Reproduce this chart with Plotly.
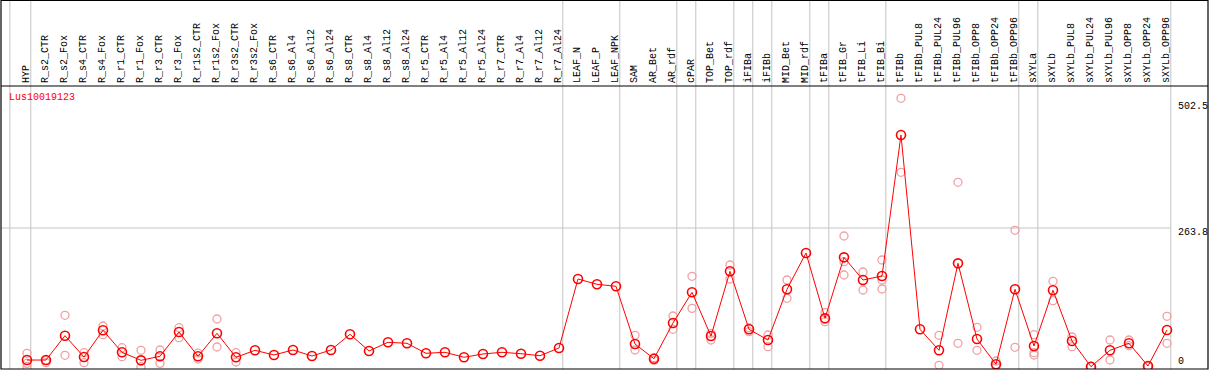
import plotly.graph_objects as go

gene = "Lus10019123"

categories = [
    "HYP", "R_s2_CTR", "R_s2_Fox", "R_s4_CTR", "R_s4_Fox", "R_r1_CTR", "R_r1_Fox",
    "R_r3_CTR", "R_r3_Fox", "R_r1s2_CTR", "R_r1s2_Fox", "R_r3s2_CTR", "R_r3s2_Fox",
    "R_s6_CTR", "R_s6_Al4", "R_s6_Al12", "R_s6_Al24", "R_s8_CTR", "R_s8_Al4",
    "R_s8_Al12", "R_s8_Al24", "R_r5_CTR", "R_r5_Al4", "R_r5_Al12", "R_r5_Al24",
    "R_r7_CTR", "R_r7_Al4", "R_r7_Al12", "R_r7_Al24", "LEAF_N", "LEAF_P", "LEAF_NPK",
    "SAM", "AR_Bet", "AR_rdf", "cPAR", "TOP_Bet", "TOP_rdf", "iFIBa", "iFIBb",
    "MID_Bet", "MID_rdf", "tFIBa", "tFIB_Gr", "tFIB_Li", "tFIB_Bi", "tFIBb",
    "tFIBb_PUL8", "tFIBb_PUL24", "tFIBb_PUL96", "tFIBb_OPP8", "tFIBb_OPP24",
    "tFIBb_OPP96", "sXYLa", "sXYLb", "sXYLb_PUL8", "sXYLb_PUL24", "sXYLb_PUL96",
    "sXYLb_OPP8", "sXYLb_OPP24", "sXYLb_OPP96",
]

mean_values = [
    12.7, 12.7, 59, 18.4, 69.2, 27.4, 12.1, 19.8, 66, 19.8, 63.5, 17.9, 31.2,
    22.3, 31.8, 20.3, 31.8, 61.6, 29.9, 46.4, 44.5, 25.5, 27.4, 17.9, 24.2,
    27.4, 24.7, 20.9, 35.6, 166.8, 156.7, 152.9, 43.2, 15.2, 83.1, 141.5, 58.4,
    181.4, 71.1, 50.8, 147.2, 216.2, 92, 208, 164.9, 172.5, 440.7, 71.1, 31.2,
    196.6, 52.7, 4.6, 147.2, 39.4, 145.3, 48.9, 0, 31.2, 44.5, 1.3, 69.8,
]

rep_high = [
    25.5, 12, 97.7, 26.6, 77.4, 36.1, 31.2, 31.8, 74.2, 26, 90.7, 26.6, None,
    None, None, None, None, None, None, None, None, None, None, None, None,
    None, None, None, None, None, None, None, 59.7, 17, 96.4, 171.9, 63.5,
    193.4, 74.2, 60.3, 164.9, None, 102.7, 248.6, 180.1, 202.9, 510.5, None, 59.7,
    350.7, 74.9, 10.8, 259.4, 60.9, 162.4, 56.5, 1, 50.8, 50.8, 1, 95.9,
]

rep_low = [
    6.4, 7.6, 21.7, 7.6, 60.9, 19, 0, 6.4, 55.2, 14.6, 37.5, 8.9, None,
    None, None, None, None, None, None, None, None, None, None, None, None,
    None, None, None, None, None, None, None, 31.8, 12, 71.1, 111, 50.8,
    166.8, 66.6, 38, 130.1, None, 85.6, 174.4, 145.9, 147.8, 369.7, None, 2.7,
    44.5, 31.2, 0.5, 36.9, 26.6, 125.5, 38, 0, 12.7, 39.9, 0.5, 44.5,
]

rep_mid = [
    0.5, None, None, None, None, None, None, None, None, None, None, None, None,
    None, None, None, None, None, None, None, None, None, None, None, None,
    None, None, None, None, None, None, None, None, None, None, None, None,
    None, None, None, None, None, None, 199.7, None, 164.9, None, None, None,
    None, None, None, None, 22.3, None, None, None, None, None, None, None,
]

y_tick_values = [502.5, 263.8, 0]
y_tick_labels = ["502.5", "263.8", "0"]

separator_after = ["HYP", "R_r7_Al24", "LEAF_NPK", "AR_rdf", "cPAR", "TOP_rdf",
                   "iFIBa", "iFIBb", "MID_rdf", "tFIBa", "tFIB_Bi",
                   "tFIBb_OPP96", "sXYLa", "sXYLb_OPP96"]

# ---- layout geometry (pixels) ----
W, H = 1209, 370
PL, PR = 1, 1208          # plot area x pixels
PT, PB = 86, 369          # plot area y pixels
pw, ph = PR - PL, PB - PT

X0 = -1.368
X1 = X0 + pw / 19.0
Y0 = -4.37
Y1 = Y0 + ph / 0.5258

def py(pix):  # pixel y -> paper y
    return (PB - pix) / ph

def px(pix):  # pixel x -> paper x
    return (pix - PL) / pw

idx = list(range(len(categories)))
MONO = "Liberation Mono"

fig = go.Figure()

rx, ry = [], []
for rep in (rep_high, rep_low, rep_mid):
    for i, v in zip(idx, rep):
        if v is not None:
            rx.append(i)
            ry.append(v)

fig.add_trace(go.Scatter(
    x=rx, y=ry, mode="markers",
    marker=dict(symbol="circle-open", size=8, color="#f0a0a4",
                line=dict(width=1.3, color="#f0a0a4")),
    showlegend=False, hoverinfo="skip"))

fig.add_trace(go.Scatter(
    x=idx, y=mean_values, mode="lines+markers",
    line=dict(color="#ff0000", width=1),
    marker=dict(symbol="circle-open", size=9, color="#ff0000",
                line=dict(width=1.6, color="#ff0000")),
    showlegend=False, hoverinfo="skip"))

shapes = []
grey = "#c4c4c4"
sep_pos = [-0.9] + [categories.index(c) + 0.2 for c in separator_after[:]]
for s in sep_pos:
    shapes.append(dict(type="line", xref="x", yref="paper", x0=s, x1=s,
                       y0=0, y1=py(0), line=dict(color=grey, width=1), layer="below"))
# horizontal grid line at middle tick
shapes.append(dict(type="line", xref="paper", yref="y", x0=0, x1=px(1170.5),
                   y0=y_tick_values[1], y1=y_tick_values[1],
                   line=dict(color=grey, width=1), layer="below"))
# borders
shapes.append(dict(type="line", xref="paper", yref="paper", x0=0, x1=1, y0=py(PT), y1=py(PT),
                   line=dict(color="black", width=1)))
shapes.append(dict(type="rect", xref="paper", yref="paper", x0=0, x1=1, y0=0, y1=py(0.5),
                   line=dict(color="black", width=1.2), fillcolor="rgba(0,0,0,0)"))

annotations = []
for i, c in zip(idx, categories):
    annotations.append(dict(x=i, xref="x", y=py(84), yref="paper", text=c,
                            textangle=-90, xanchor="center", yanchor="bottom",
                            showarrow=False, borderpad=0,
                            font=dict(family=MONO, size=10, color="black")))

label_y_pix = [106.7, 232.3, 361.7]
for lbl, yp in zip(y_tick_labels, label_y_pix):
    annotations.append(dict(x=px(1177), xref="paper", y=py(yp), yref="paper",
                            text=lbl, xanchor="left", yanchor="middle",
                            showarrow=False, borderpad=0,
                            font=dict(family=MONO, size=10, color="black")))

annotations.append(dict(x=px(8), xref="paper", y=py(97.3), yref="paper", text=gene,
                        xanchor="left", yanchor="middle", showarrow=False, borderpad=0,
                        font=dict(family=MONO, size=10, color="#ff0000")))

fig.update_layout(
    width=W, height=H,
    margin=dict(l=PL, r=W - PR, t=PT, b=H - PB, pad=0),
    paper_bgcolor="white", plot_bgcolor="white",
    xaxis=dict(range=[X0, X1], showgrid=False, zeroline=False, showticklabels=False,
               ticks="", showline=False, fixedrange=True),
    yaxis=dict(range=[Y0, Y1], showgrid=False, zeroline=False, showticklabels=False,
               ticks="", showline=False, fixedrange=True),
    shapes=shapes, annotations=annotations,
)

fig.write_html("out.html", config={"displayModeBar": False},
               post_script="document.body.style.margin='0';document.body.style.overflow='hidden';")
